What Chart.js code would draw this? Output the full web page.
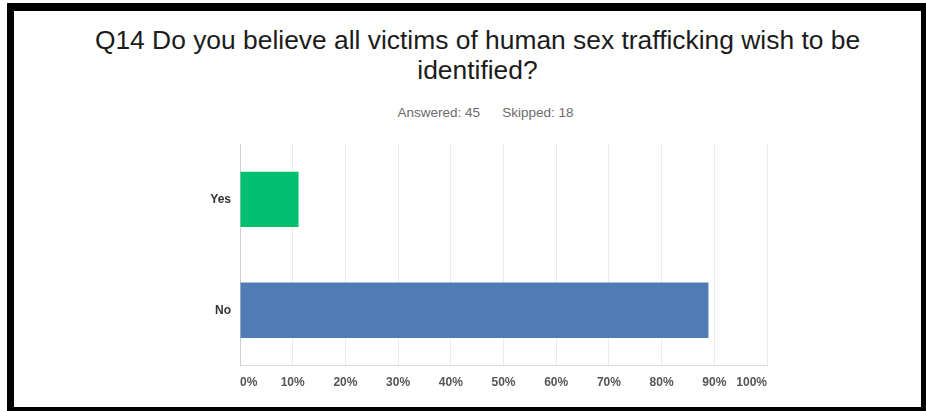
<!DOCTYPE html>
<html>
<head>
<meta charset="utf-8">
<script src="https://cdn.jsdelivr.net/npm/chart.js@4"></script>
<style>
    html, body { margin: 0; padding: 0; background: #ffffff; }
    body { width: 926px; height: 411px; position: relative; overflow: hidden; }
    .frame {
        position: absolute; left: 7px; top: 3px; width: 919px; height: 408px;
        box-sizing: border-box; border-style: solid; border-color: #000000;
        border-width: 8px 5px 4px 7px; background: #ffffff;
    }
    .q-title {
        position: absolute; left: 20px; right: 0; top: 14px; margin: 0;
        font: 26.4px "Liberation Sans", Arial, sans-serif; line-height: 30px;
        color: #1b1b1b; text-align: center; font-weight: normal;
    }
    .q-stats {
        position: absolute; left: 36px; width: 871px; top: 94px; margin: 0;
        font: 13.5px "Liberation Sans", Arial, sans-serif; line-height: 15px;
        color: #6b6b6b; text-align: center;
    }
    .q-stats span + span { margin-left: 22px; }
    .chart-box { position: absolute; left: 0; top: 114px; width: 907px; height: 282px; }
</style>
</head>
<body>
<div class="frame">
    <h1 class="q-title">Q14 Do you believe all victims of human sex trafficking wish to be<br>identified?</h1>
    <p class="q-stats"><span>Answered: 45</span><span>Skipped: 18</span></p>
    <div class="chart-box"><canvas id="answers-chart"></canvas></div>
</div>
<script>
// Answer choices and share of respondents (%)
const answerLabels = ['Yes', 'No'];
const answerPercents = [11.11, 88.89];
const answerColors = ['#00bf6f', '#507cb6'];
const percentTicks = ['0%', '10%', '20%', '30%', '40%', '50%', '60%', '70%', '80%', '90%', '100%'];

const ctx = document.getElementById('answers-chart').getContext('2d');
const answersChart = new Chart(ctx, {
    type: 'bar',
    data: {
        labels: answerLabels,
        datasets: [{
            data: answerPercents,
            backgroundColor: answerColors,
            borderWidth: 0,
            barPercentage: 0.5,
            categoryPercentage: 1.0
        }]
    },
    options: {
        indexAxis: 'y',
        responsive: true,
        maintainAspectRatio: false,
        animation: false,
        layout: {
            padding: { top: 19, right: 154, bottom: 7, left: 0 }
        },
        plugins: {
            legend: { display: false },
            tooltip: { enabled: false }
        },
        scales: {
            x: {
                min: 0,
                max: 100,
                grid: { color: '#ebebeb', drawTicks: false },
                border: { color: '#dcdcdc', width: 1 },
                ticks: {
                    stepSize: 10,
                    align: 'inner',
                    padding: 10,
                    color: '#555555',
                    font: { family: '"Liberation Sans", Arial, sans-serif', size: 12, weight: 'bold' },
                    callback: (value, index) => percentTicks[index]
                }
            },
            y: {
                grid: { display: false, drawTicks: false },
                border: { color: '#cfcfcf', width: 1 },
                ticks: {
                    padding: 9,
                    color: '#333333',
                    font: { family: '"Liberation Sans", Arial, sans-serif', size: 12, weight: 'bold' }
                },
                afterFit: function(scale) {
                    scale.width = 226;
                }
            }
        }
    }
});
</script>
</body>
</html>
